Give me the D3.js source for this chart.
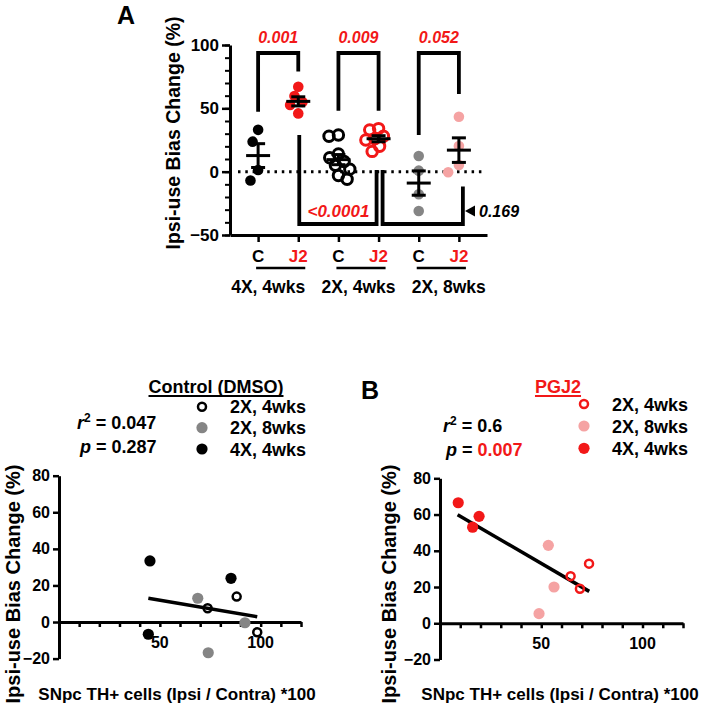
<!DOCTYPE html>
<html><head><meta charset="utf-8">
<script src="https://cdn.jsdelivr.net/npm/d3@7"></script>
<style>
body{margin:0;background:#fff}
text{font-family:"Liberation Sans",Arial,Helvetica,sans-serif;font-weight:bold;fill:#000}
</style>
</head><body>
<svg id="c" width="709" height="714"></svg>
<script>
// ================= DATA =================
// Panel A (column scatter)
const categories = ["C", "J2", "C", "J2", "C", "J2"];
const groupLabels = ["4X, 4wks", "2X, 4wks", "2X, 8wks"];
const ctl4x4w = [33, 23.7, 1.3, -7];
const pgj4x4w = [67, 59.7, 55, 52.6, 46];
const ctl2x4w = [29, 28, 14, 11, 8, 5, 2, -3, -6];
const pgj2x4w = [34, 33, 28, 26, 25, 20, 16];
const ctl2x8w = [12.4, 0.8, -17.8, -31];
const pgj2x8w = [43.4, 20.3, 5.3, -0.5];
const meanValues = [12.7, 55.5, 9.5, 26, -9, 17];
const semValues = [9.4, 3.6, 4, 2.4, 9.6, 9.7];
const yTicksA = [-50, 0, 50, 100];
const pTop = ["0.001", "0.009", "0.052"];
const pBottom = ["<0.0001", "0.169"];

// Panel B (correlations)
const legendLabels = ["2X, 4wks", "2X, 8wks", "4X, 4wks"];
const ctlOpenX = [73.7, 88.1, 98.3],  ctlOpenY = [7.5, 13.9, -5.6];
const ctlGrayX = [68.8, 92.2, 74.0],  ctlGrayY = [13, -0.4, -16.8];
const ctlBlackX = [45.1, 44.3, 85.3], ctlBlackY = [33.4, -6.7, 23.9];
const ctlFitX = [44.3, 98.3],         ctlFitY = [13, 2.9];
const pgOpenX = [64.5, 69.1, 73.6],   pgOpenY = [26, 19, 32.9];
const pgPinkX = [53.5, 56.3, 48.9],   pgPinkY = [43, 20, 5.3];
const pgRedX = [9.0, 16.1, 19.3],     pgRedY = [66.5, 53, 59];
const pgFitX = [8.7, 73.7],           pgFitY = [59.9, 17.6];
const yTicksB = [-20, 0, 20, 40, 60, 80];
const xLabelTicksB = [50, 100];
const statsCtl = {r2: "0.047", p: "0.287"};
const statsPg = {r2: "0.6", p: "0.007"};

// ================= STYLE =================
const RED = "#f21818", PINK = "#f5a3a3", GRAY = "#858585", BLACK = "#000";
const FONT = '"Liberation Sans",Arial,Helvetica,sans-serif';
const svg = d3.select("#c");

// ================= PANEL A =================
const yA = d3.scaleLinear().domain([-50, 100]).range([235, 45]);
const xA = d3.scalePoint().domain(d3.range(6)).range([230, 487]).padding(0.7);
const gA = svg.append("g");

function styleAxis(g, w) {
  g.select(".domain").attr("stroke-width", w).attr("stroke", BLACK);
  g.selectAll(".tick line").attr("stroke-width", w - 0.5).attr("stroke", BLACK);
  g.selectAll(".tick text").attr("font-family", FONT).attr("font-weight", "bold").attr("fill", BLACK);
}

// minor y ticks
gA.append("g").attr("transform", "translate(230,0)")
  .call(d3.axisLeft(yA).tickValues(d3.range(-50, 101, 10)).tickSize(5).tickFormat(""))
  .call(g => { g.select(".domain").remove(); g.selectAll("line").attr("stroke-width", 2); });
gA.append("g").attr("transform", "translate(230,0)")
  .call(d3.axisLeft(yA).tickValues(yTicksA).tickSize(8).tickSizeOuter(0).tickPadding(3))
  .call(g => styleAxis(g, 3))
  .call(g => g.selectAll(".tick text").attr("font-size", 17));
gA.append("g").attr("transform", "translate(0,235)")
  .call(d3.axisBottom(xA).tickSize(7).tickSizeOuter(0).tickFormat(""))
  .call(g => styleAxis(g, 3));

// dotted zero line
gA.append("line").attr("x1", 238).attr("x2", 485).attr("y1", yA(0)).attr("y2", yA(0))
  .attr("stroke", BLACK).attr("stroke-width", 3).attr("stroke-dasharray", "2.5,4.8");

// category labels
gA.selectAll(".cat").data(categories).join("text")
  .attr("x", (d, i) => xA(i)).attr("y", 262).attr("text-anchor", "middle")
  .attr("font-size", 17).style("fill", (d, i) => i % 2 ? RED : BLACK).text(d => d);
// group underlines and labels
const groupLabelDx = [-10, 0, 10];
groupLabels.forEach((lab, k) => {
  const a = xA(2 * k), b = xA(2 * k + 1);
  gA.append("line").attr("x1", a - 2).attr("x2", b + 7).attr("y1", 268).attr("y2", 268)
    .attr("stroke", BLACK).attr("stroke-width", 2.5);
  gA.append("text").attr("x", (a + b) / 2 + groupLabelDx[k]).attr("y", 293)
    .attr("text-anchor", "middle").attr("font-size", 17.5).text(lab);
});

// y title
gA.append("text").attr("transform", "translate(180,133) rotate(-90)")
  .attr("text-anchor", "middle").attr("font-size", 19.5).text("Ipsi-use Bias Change (%)");
// panel letter
svg.append("text").attr("x", 117).attr("y", 24).attr("font-size", 25).text("A");

// beeswarm placement
function beeswarm(vals, D) {
  const pts = vals.map(v => ({v, y: yA(v)})).sort((a, b) => a.y - b.y);
  const placed = [];
  pts.forEach((p, i) => {
    const cands = [0];
    placed.forEach(q => {
      const dy = p.y - q.y;
      if (Math.abs(dy) < D) { const dx = Math.sqrt(D * D - dy * dy); cands.push(q.dx + dx, q.dx - dx); }
    });
    cands.sort((a, b) => (Math.abs(a) - Math.abs(b)) || (i % 2 ? a - b : b - a));
    for (const c of cands) {
      if (placed.every(q => (c - q.dx) ** 2 + (p.y - q.y) ** 2 >= D * D - 0.01)) { p.dx = c; break; }
    }
    if (p.dx === undefined) p.dx = 0;
    placed.push(p);
  });
  return placed;
}

const seriesA = [
  {vals: ctl4x4w, fill: BLACK, open: false, D: 13},
  {vals: pgj4x4w, fill: RED, open: false, D: 10},
  {vals: ctl2x4w, fill: BLACK, open: true, D: 9.5},
  {vals: pgj2x4w, fill: RED, open: true, D: 9},
  {vals: ctl2x8w, fill: GRAY, open: false, D: 11},
  {vals: pgj2x8w, fill: PINK, open: false, D: 13}
];
seriesA.forEach((s, i) => {
  const pts = beeswarm(s.vals, s.D);
  gA.append("g").selectAll("circle").data(pts).join("circle")
    .attr("cx", d => xA(i) + d.dx).attr("cy", d => d.y)
    .attr("r", s.open ? 5.2 : 5.3)
    .attr("fill", s.open ? "none" : s.fill)
    .attr("stroke", s.open ? s.fill : "none")
    .attr("stroke-width", s.open ? 3 : 0);
});
// mean +/- SEM
meanValues.forEach((m, i) => {
  const x = xA(i), g = gA.append("g").attr("stroke", BLACK).attr("stroke-width", 3);
  g.append("line").attr("x1", x - 12).attr("x2", x + 12).attr("y1", yA(m)).attr("y2", yA(m));
  g.append("line").attr("x1", x).attr("x2", x).attr("y1", yA(m - semValues[i])).attr("y2", yA(m + semValues[i]));
  [m - semValues[i], m + semValues[i]].forEach(v =>
    g.append("line").attr("x1", x - 7).attr("x2", x + 7).attr("y1", yA(v)).attr("y2", yA(v)));
});

// significance brackets (annotation positions in data units)
const topBrackets = [
  {a: 0, b: 1, top: 93.7, la: 47.4, lb: 79},
  {a: 2, b: 3, top: 93.7, la: 48, lb: 48},
  {a: 4, b: 5, top: 93.7, la: 29, lb: 61.3}
];
topBrackets.forEach((br, k) => {
  const xa = xA(br.a), xb = xA(br.b);
  gA.append("path").attr("d", `M${xa},${yA(br.la)}V${yA(br.top)}H${xb}V${yA(br.lb)}`)
    .attr("fill", "none").attr("stroke", BLACK).attr("stroke-width", 3.8);
  gA.append("text").attr("x", (xa + xb) / 2).attr("y", 43).attr("text-anchor", "middle")
    .attr("font-size", 16).attr("font-style", "italic").style("fill", RED).text(pTop[k]);
});
const botBrackets = [
  {a: 1, b: 3, bot: -41.3, la: 29, lb: 1.3, da: 1, db: -2},
  {a: 3, b: 5, bot: -41.3, la: 1.3, lb: -11.8, da: 4, db: 4}
];
botBrackets.forEach((br, k) => {
  const xa = xA(br.a) + br.da, xb = xA(br.b) + br.db;
  gA.append("path").attr("d", `M${xa},${yA(br.la)}V${yA(br.bot)}H${xb}V${yA(br.lb)}`)
    .attr("fill", "none").attr("stroke", BLACK).attr("stroke-width", 3.8);
});
gA.append("text").attr("x", (xA(1) + xA(3)) / 2).attr("y", 217).attr("text-anchor", "middle")
  .attr("font-size", 17).attr("font-style", "italic").style("fill", RED).text(pBottom[0]);
gA.append("path").attr("d", "M465,211L475,205.5V216.5Z").attr("fill", BLACK);
gA.append("text").attr("x", 479).attr("y", 217).attr("font-size", 16).attr("font-style", "italic").text(pBottom[1]);

// ================= PANEL B =================
svg.append("text").attr("x", 361).attr("y", 399).attr("font-size", 25).text("B");

function titleUnder(x, y, txt, color) {
  const t = svg.append("text").attr("x", x).attr("y", y).attr("text-anchor", "middle")
    .attr("font-size", 18).style("fill", color).text(txt);
  const w = t.node().getComputedTextLength();
  svg.append("line").attr("x1", x - w / 2).attr("x2", x + w / 2).attr("y1", y + 3).attr("y2", y + 3)
    .attr("stroke", color).attr("stroke-width", 1.8);
}
titleUnder(216, 393, "Control (DMSO)", BLACK);
titleUnder(558, 393, "PGJ2", RED);

function scatterPanel(cfg) {
  const g = svg.append("g");
  const x = d3.scaleLinear().domain([0, 120]).range(cfg.xr);
  const y = d3.scaleLinear().domain([-20, 80]).range(cfg.yr);
  // y axis
  g.append("g").attr("transform", `translate(${cfg.xr[0]},0)`)
    .call(d3.axisLeft(y).tickValues(yTicksB).tickSize(6).tickSizeOuter(0).tickPadding(3))
    .call(a => styleAxis(a, 3))
    .call(a => a.selectAll(".tick text").attr("font-size", 16));
  // x axis at y=0
  g.append("g").attr("transform", `translate(0,${y(0)})`)
    .call(d3.axisBottom(x).tickValues(d3.range(10, 121, 10)).tickSize(5).tickSizeOuter(0).tickFormat(""))
    .call(a => styleAxis(a, 3));
  g.selectAll(".xl").data(xLabelTicksB).join("text")
    .attr("x", d => x(d)).attr("y", y(0) + 26).attr("text-anchor", "middle").attr("font-size", 16).text(d => d);
  // titles
  g.append("text").attr("transform", `translate(${cfg.ytx},584) rotate(-90)`).attr("text-anchor", "middle")
    .attr("font-size", 20).text("Ipsi-use Bias Change (%)");
  g.append("text").attr("x", cfg.xtx).attr("y", 700).attr("text-anchor", "middle")
    .attr("font-size", 17).text("SNpc TH+ cells (Ipsi / Contra) *100");
  // fit line
  g.append("line").attr("x1", x(cfg.fitX[0])).attr("y1", y(cfg.fitY[0]))
    .attr("x2", x(cfg.fitX[1])).attr("y2", y(cfg.fitY[1]))
    .attr("stroke", BLACK).attr("stroke-width", 3.5);
  // points
  cfg.series.forEach(s => {
    g.append("g").selectAll("circle").data(s.xs.map((v, i) => [v, s.ys[i]])).join("circle")
      .attr("cx", d => x(d[0])).attr("cy", d => y(d[1]))
      .attr("r", s.open ? 4 : 5.6)
      .attr("fill", s.open ? "none" : s.color)
      .attr("stroke", s.open ? s.color : "none").attr("stroke-width", s.open ? 2.5 : 0);
  });
  // legend
  cfg.series.forEach((s, i) => {
    const ly = cfg.legY[i];
    g.append("circle").attr("cx", cfg.legX).attr("cy", ly).attr("r", s.open ? 4 : 5.6)
      .attr("fill", s.open ? "none" : s.color)
      .attr("stroke", s.open ? s.color : "none").attr("stroke-width", s.open ? 2.5 : 0);
    g.append("text").attr("x", cfg.legX + 28).attr("y", ly + 6.5).attr("font-size", 18).text(legendLabels[i]);
  });
  // stats
  const t1 = g.append("text").attr("x", cfg.statX).attr("y", cfg.statY).attr("font-size", 18);
  t1.append("tspan").attr("font-style", "italic").text("r");
  t1.append("tspan").attr("font-size", 12).attr("dy", -7).text("2");
  t1.append("tspan").attr("dy", 7).text(" = " + cfg.stats.r2);
  const t2 = g.append("text").attr("x", cfg.statX + 3).attr("y", cfg.statY + 23.5).attr("font-size", 18);
  t2.append("tspan").attr("font-style", "italic").text("p");
  t2.append("tspan").text(" = ");
  t2.append("tspan").style("fill", cfg.pColor).text(cfg.stats.p);
}

scatterPanel({
  xr: [59, 301], yr: [658.6, 475.7], ytx: 20, xtx: 177,
  fitX: ctlFitX, fitY: ctlFitY,
  series: [
    {xs: ctlOpenX, ys: ctlOpenY, color: BLACK, open: true},
    {xs: ctlGrayX, ys: ctlGrayY, color: GRAY, open: false},
    {xs: ctlBlackX, ys: ctlBlackY, color: BLACK, open: false}
  ],
  legX: 202, legY: [406.7, 427.7, 449], statX: 77, statY: 429, stats: statsCtl, pColor: BLACK
});
scatterPanel({
  xr: [440, 683], yr: [659.5, 478.3], ytx: 396, xtx: 560,
  fitX: pgFitX, fitY: pgFitY,
  series: [
    {xs: pgOpenX, ys: pgOpenY, color: RED, open: true},
    {xs: pgPinkX, ys: pgPinkY, color: PINK, open: false},
    {xs: pgRedX, ys: pgRedY, color: RED, open: false}
  ],
  legX: 584, legY: [404, 426, 448.3], statX: 443, statY: 432, stats: statsPg, pColor: RED
});
</script>
</body></html>
